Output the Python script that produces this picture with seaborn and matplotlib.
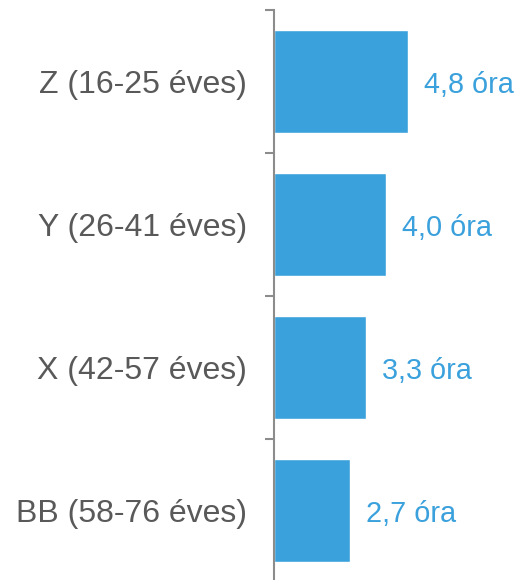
import matplotlib
matplotlib.use("Agg")
import matplotlib.pyplot as plt
import seaborn as sns
import pandas as pd

generations = ["Z (16-25 éves)", "Y (26-41 éves)", "X (42-57 éves)", "BB (58-76 éves)"]
hours = [4.8, 4.0, 3.3, 2.7]
value_labels = ["4,8 óra", "4,0 óra", "3,3 óra", "2,7 óra"]

bar_color = "#3BA1DC"
text_color = "#595959"
axis_color = "#8C8C8C"

sns.set_style("white")
plt.rcParams["font.family"] = ["Liberation Sans", "DejaVu Sans"]

df = pd.DataFrame({"gen": generations, "hours": hours})

fig = plt.figure(figsize=(5.19, 5.80), dpi=100)
ax = fig.add_axes([274 / 519, -2 / 580, 245 / 519, 572 / 580])

sns.barplot(data=df, x="hours", y="gen", orient="h", color=bar_color,
            saturation=1, width=0.72, ax=ax)

ax.set_xlim(0, 8.75)
ax.set_ylim(3.5, -0.5)

# value labels right of the bars
for i, (v, lab) in enumerate(zip(hours, value_labels)):
    ax.annotate(lab, (v, i), xytext=(11.5, -2.5), textcoords="offset points",
                ha="left", va="center", fontsize=20.8, color=bar_color)

# separator ticks between categories, labels on minor ticks
ax.set_yticks([-0.5, 0.5, 1.5, 2.5, 3.5])
ax.set_yticklabels([])
ax.set_yticks(range(len(generations)), minor=True)
ax.set_yticklabels(generations, minor=True, fontsize=23, color=text_color)
ax.tick_params(axis="y", which="major", length=6.5, width=1.5, color=axis_color, left=True)
ax.tick_params(axis="y", which="minor", length=0, pad=19.5)

ax.set_xticks([])
ax.set_xlabel("")
ax.set_ylabel("")
for s in ["top", "right", "bottom"]:
    ax.spines[s].set_visible(False)
ax.spines["left"].set_color(axis_color)
ax.spines["left"].set_linewidth(1.5)

fig.savefig("out.png", dpi=100)
